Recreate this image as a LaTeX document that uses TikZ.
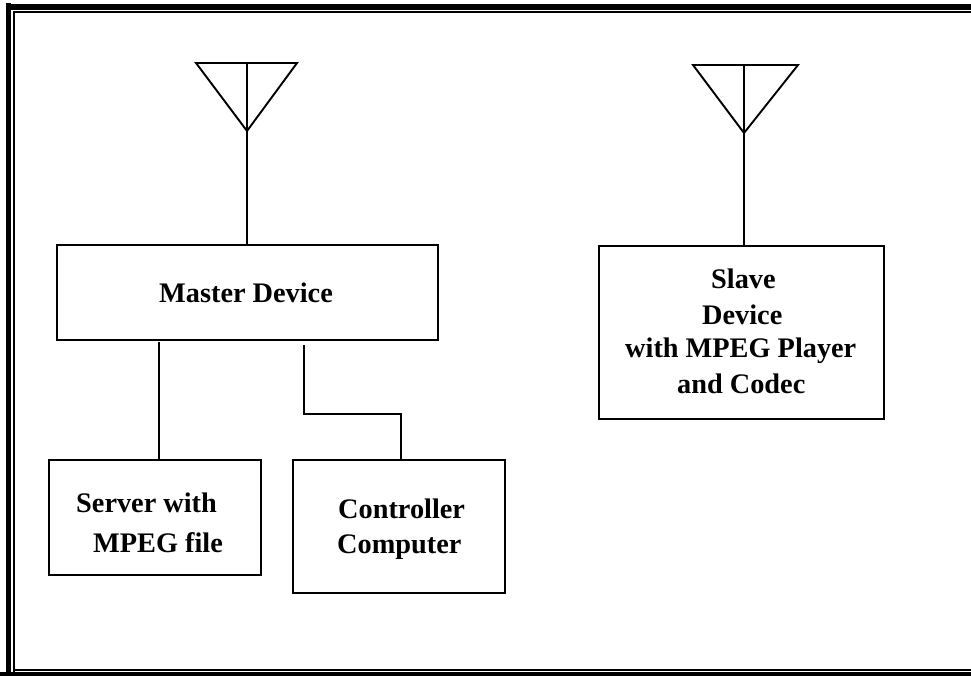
\documentclass[tikz,border=0pt]{standalone}
\usepackage{fontspec}
\setmainfont{Liberation Serif}
\tikzset{
  devbox/.style={draw=black,line width=2pt,fill=white,inner sep=0pt,outer sep=0pt,anchor=north west},
  lbl/.style={font=\bfseries\fontsize{28.3}{37}\selectfont,inner sep=0pt,anchor=base west},
  wire/.style={draw=black,line width=1.9pt},
  heavyline/.style={draw=black,line width=5.5pt},
  lightline/.style={draw=black,line width=2pt}
}
\begin{document}
\begin{tikzpicture}[x=1pt,y=-1pt]
\useasboundingbox (0,0) rectangle (971,675);
\draw[heavyline] (8.5,675) -- (8.5,3);
\draw[heavyline] (6,7) -- (971,7);
\draw[heavyline] (0,674.5) -- (971,674.5);
\draw[lightline] (14,675) -- (14,12) -- (971,12);
\draw[lightline] (14,670) -- (971,670);
\node[devbox,minimum width=381pt,minimum height=95pt] (master) at (57,245) {};
\node[devbox,minimum width=285pt,minimum height=173pt] (slave) at (599,246) {};
\node[devbox,minimum width=212pt,minimum height=115pt] (server) at (49,460) {};
\node[devbox,minimum width=212pt,minimum height=133pt] (ctrl) at (293,460) {};
\coordinate (a1) at (196,63); \coordinate (a2) at (297,63); \coordinate (a3) at (247,131); \coordinate (a4) at (247,63);
\coordinate (b1) at (693,65); \coordinate (b2) at (798,65); \coordinate (b3) at (744,133); \coordinate (b4) at (744,65);
\draw[wire,line join=miter] (a1) -- (a2) -- (a3) -- cycle;
\draw[wire,line join=miter] (b1) -- (b2) -- (b3) -- cycle;
\draw[wire] (a4) -- (master.north -| a4);
\draw[wire] (b4) -- (slave.north -| b4);
\coordinate (s1) at (159,342);
\coordinate (c1) at (304,345);
\coordinate (c2) at (304,414);
\coordinate (c3) at (401,414);
\draw[wire] (s1) -- (server.north -| s1);
\draw[wire] (c1) -- (c2) -- (c3) -- (ctrl.north -| c3);
\node[lbl] (t1) at (159,302) {Master Device};
\node[lbl] (t2) at (711,288) {Slave};
\node[lbl] (t3) at (702,324) {Device};
\node[lbl] (t4) at (625,357) {with MPEG Player};
\node[lbl] (t5) at (677,393) {and Codec};
\node[lbl] (t6) at (76,512) {Server with};
\node[lbl] (t7) at (93,552) {MPEG file};
\node[lbl] (t8) at (338,518) {Controller};
\node[lbl] (t9) at (337,553) {Computer};
\end{tikzpicture}
\end{document}
